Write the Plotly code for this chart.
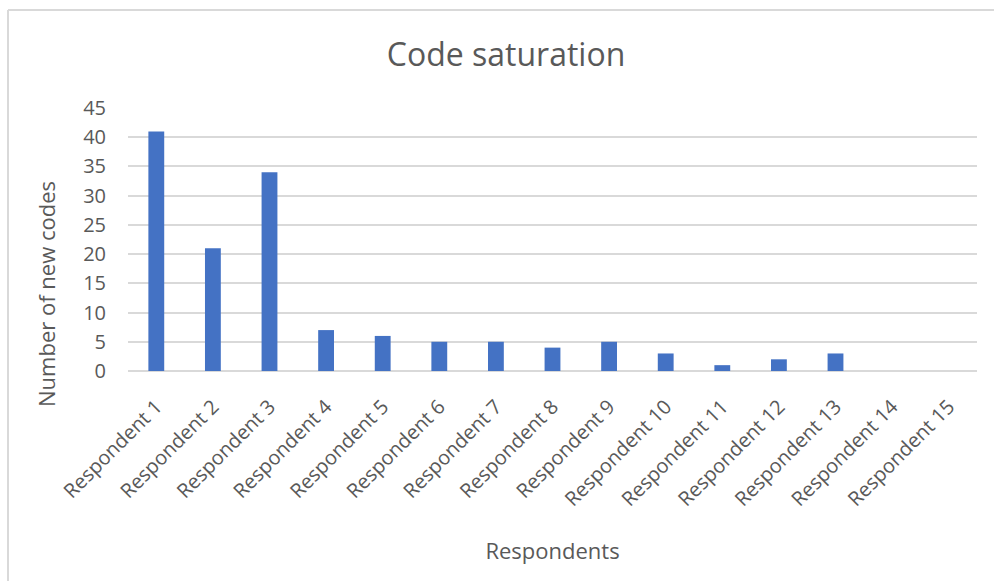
import plotly.graph_objects as go

respondents = [f"Respondent {i}" for i in range(1, 16)]
new_codes = [41, 21, 34, 7, 6, 5, 5, 4, 5, 3, 1, 2, 3, 0, 0]
y_ticks = [0, 5, 10, 15, 20, 25, 30, 35, 40, 45]

W, H = 994, 581
M_L, M_R, M_T, M_B = 128, 17, 108, 210
PW, PH = W - M_L - M_R, H - M_T - M_B


def px_x(px):
    return (px - M_L) / PW


def px_y(py):
    return (H - M_B - py) / PH


FONT = "Open Sans, Noto Sans, sans-serif"
GREY = "#595959"
LINE = "#d9d9d9"
CLEAR = "rgba(0,0,0,0)"

fig = go.Figure(
    go.Bar(
        x=respondents,
        y=new_codes,
        marker=dict(color="#4472C4", line=dict(width=0)),
    )
)

fig.update_layout(
    width=W,
    height=H,
    margin=dict(l=M_L, r=M_R, t=M_T, b=M_B),
    paper_bgcolor="white",
    plot_bgcolor="white",
    bargap=0.72,
    showlegend=False,
    font=dict(family=FONT, color=GREY),
    title=dict(
        text="Code saturation",
        x=px_x(506), xref="paper", xanchor="center",
        y=1 - 55 / H, yanchor="middle",
        font=dict(size=32, color=GREY, family=FONT),
    ),
    xaxis=dict(
        tickangle=-45,
        tickfont=dict(size=20, color=GREY),
        showgrid=False,
        showline=False,
        ticks="outside",
        ticklen=15,
        tickcolor=CLEAR,
        automargin=False,
        title=dict(text="Respondents", font=dict(size=22, color=GREY), standoff=32),
    ),
    yaxis=dict(
        range=[0, 45],
        tickvals=y_ticks,
        tickfont=dict(size=20, color=GREY),
        gridcolor=LINE,
        gridwidth=1.5,
        zeroline=True,
        zerolinecolor=LINE,
        zerolinewidth=1.5,
        showline=False,
        ticks="outside",
        ticklen=17,
        tickcolor=CLEAR,
        automargin=False,
    ),
    annotations=[
        dict(
            text="Number of new codes",
            xref="paper", yref="paper",
            x=px_x(46), y=px_y(294),
            xanchor="center", yanchor="middle",
            textangle=-90, showarrow=False,
            font=dict(size=22, color=GREY, family=FONT),
        )
    ],
    shapes=[
        dict(type="line", xref="paper", yref="paper",
             x0=px_x(8), x1=px_x(W), y0=px_y(10), y1=px_y(10),
             line=dict(color=LINE, width=2)),
        dict(type="line", xref="paper", yref="paper",
             x0=px_x(8), x1=px_x(8), y0=px_y(10), y1=px_y(H),
             line=dict(color=LINE, width=2)),
    ],
)

fig.write_html("out.html")
